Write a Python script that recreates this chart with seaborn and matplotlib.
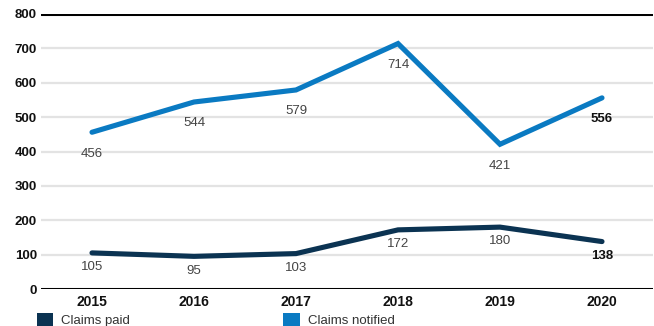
import matplotlib
matplotlib.use("Agg")
import matplotlib.pyplot as plt
from matplotlib.patches import Patch
import seaborn as sns
import pandas as pd

years = ["2015", "2016", "2017", "2018", "2019", "2020"]
claims_paid = [105, 95, 103, 172, 180, 138]
claims_notified = [456, 544, 579, 714, 421, 556]
y_ticks = [0, 100, 200, 300, 400, 500, 600, 700, 800]

series_names = ["Claims paid", "Claims notified"]
colors = {"Claims paid": "#0b3352", "Claims notified": "#0a7ac2"}
label_offsets = {"Claims paid": -6, "Claims notified": -11}

df = pd.DataFrame({
    "pos": list(range(len(years))) * 2,
    "value": claims_paid + claims_notified,
    "series": [series_names[0]] * len(years) + [series_names[1]] * len(years),
})

sns.set_style("white")
plt.rcParams["font.family"] = ["Liberation Sans", "DejaVu Sans"]

fig = plt.figure(figsize=(6.54, 3.26), dpi=100)
ax = fig.add_axes([41 / 654, 1 - 289 / 326, 612 / 654, 275 / 326])

# horizontal grid
for v in y_ticks[1:-1]:
    ax.axhline(v, color="#e3e3e3", lw=1.6, zorder=0)
ax.axhline(0, color="black", lw=2.2, zorder=1)
ax.axhline(800, color="black", lw=2.2, zorder=1)

sns.lineplot(data=df, x="pos", y="value", hue="series", palette=colors,
             linewidth=3.7, legend=False, ax=ax, zorder=3)
for line in ax.lines:
    line.set_solid_capstyle("round")
    line.set_solid_joinstyle("miter")

# value labels below each point; last year in bold
for series, vals in ((series_names[0], claims_paid), (series_names[1], claims_notified)):
    for i, v in enumerate(vals):
        last = i == len(vals) - 1
        ax.annotate(str(v), (i, v), xytext=(0, label_offsets[series]),
                    textcoords="offset points", ha="center", va="top", fontsize=9.5,
                    fontweight="bold" if last else "normal",
                    color="#111111" if last else "#444444")

ax.set_xlim(-0.5, len(years) - 0.5)
ax.set_ylim(0, 800)
ax.set_xticks(range(len(years)))
ax.set_xticklabels(years)
ax.set_yticks(y_ticks)
ax.tick_params(axis="both", length=0, colors="#111111")
ax.tick_params(axis="y", pad=3, labelsize=9.5)
ax.tick_params(axis="x", pad=4, labelsize=10)
for lab in ax.get_xticklabels() + ax.get_yticklabels():
    lab.set_fontweight("bold")
ax.set_xlabel("")
ax.set_ylabel("")
for s in ax.spines.values():
    s.set_visible(False)

handles = [Patch(facecolor=colors[n], edgecolor="none", label=n) for n in series_names]
fig.legend(handles=handles, loc="upper left", bbox_to_anchor=(37 / 654, 1 - 313 / 326),
           ncol=2, frameon=False, fontsize=9.5, handlelength=1.25, handleheight=1.25,
           handletextpad=0.6, columnspacing=11.6, borderaxespad=0, borderpad=0,
           labelcolor="#333333")

fig.savefig("out.png", dpi=100)
